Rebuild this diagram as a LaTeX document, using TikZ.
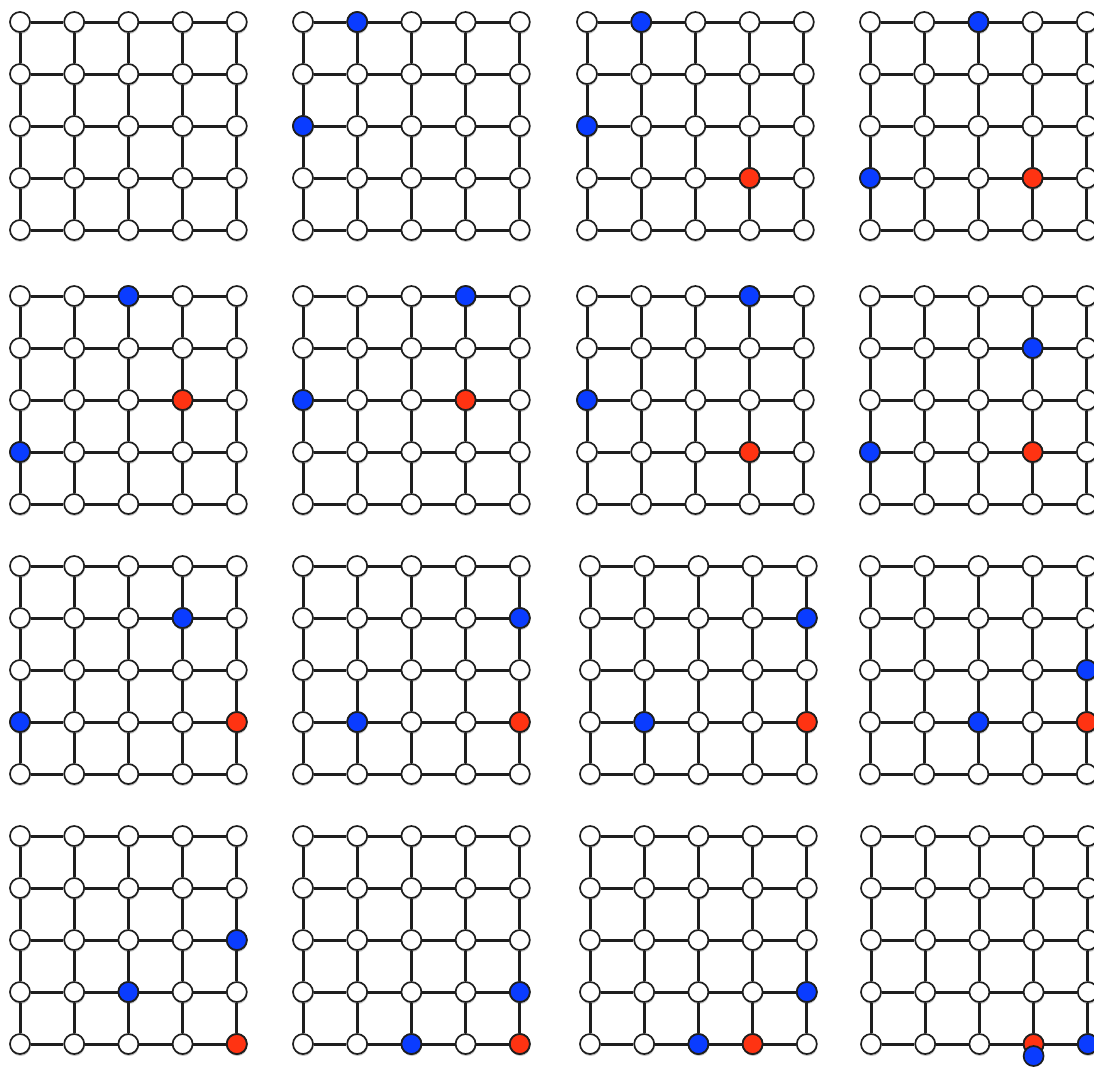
\documentclass[tikz,border=0pt]{standalone}
\usetikzlibrary{shadows}
\definecolor{Ink}{HTML}{1E1E1E}
\definecolor{Pin}{HTML}{0A3CFF}
\definecolor{Ember}{HTML}{FF3312}

\begin{document}
\begin{tikzpicture}[x=1pt,y=-1pt,
  dot/.style={circle,draw=Ink,line width=1.7pt,minimum size=20pt,inner sep=0pt},
  site/.style={dot,fill=white,drop shadow={shadow xshift=0.5pt,shadow yshift=-2pt,opacity=.45}},
  walker/.style={dot,fill=Pin},
  target/.style={dot,fill=Ember},
  bond/.style={Ink,line width=3pt}]
\useasboundingbox (0,0) rectangle (1094,1066);
% sixteen 5x5 lattices, top-left site of each
\foreach \p/\ox/\oy in {1/20/22,2/303/22,3/587/22,4/870/22,
    5/20/296,6/303/296,7/587/296,8/870/296,
    9/20/566,10/303/566,11/590/566,12/870/566,
    13/20/836,14/303/836,15/590/836,16/871/836}{
  \foreach \c in {0,...,4}
    \foreach \r in {0,...,4}
      \node[site] (p\p-\c-\r) at ({\ox+54.2*\c},{\oy+52*\r}) {};
  \foreach \c in {0,...,4}
    \foreach \r [count=\s] in {0,...,3}
      \draw[bond] (p\p-\c-\r) -- (p\p-\c-\s);
  \foreach \r in {0,...,4}
    \foreach \c [count=\d] in {0,...,3}
      \draw[bond] (p\p-\c-\r) -- (p\p-\d-\r);
}
% blue walkers
\foreach \p/\c/\r in {2/1/0,2/0/2,3/1/0,3/0/2,4/2/0,4/0/3,5/2/0,5/0/3,
    6/3/0,6/0/2,7/3/0,7/0/2,8/3/1,8/0/3,9/3/1,9/0/3,10/4/1,10/1/3,
    11/4/1,11/1/3,12/4/2,12/2/3,13/4/2,13/2/3,14/4/3,14/2/4,
    15/4/3,15/2/4,16/4/4}
  \node[walker] (w\p-\c-\r) at (p\p-\c-\r) {};
% red targets
\foreach \p/\c/\r in {3/3/3,4/3/3,5/3/2,6/3/2,7/3/3,8/3/3,9/4/3,10/4/3,
    11/4/3,12/4/3,13/4/4,14/4/4,15/3/4,16/3/4}
  \node[target] (t\p-\c-\r) at (p\p-\c-\r) {};
\node[walker,yshift=-12pt] (w16-off) at (p16-3-4) {};
\end{tikzpicture}
\end{document}
